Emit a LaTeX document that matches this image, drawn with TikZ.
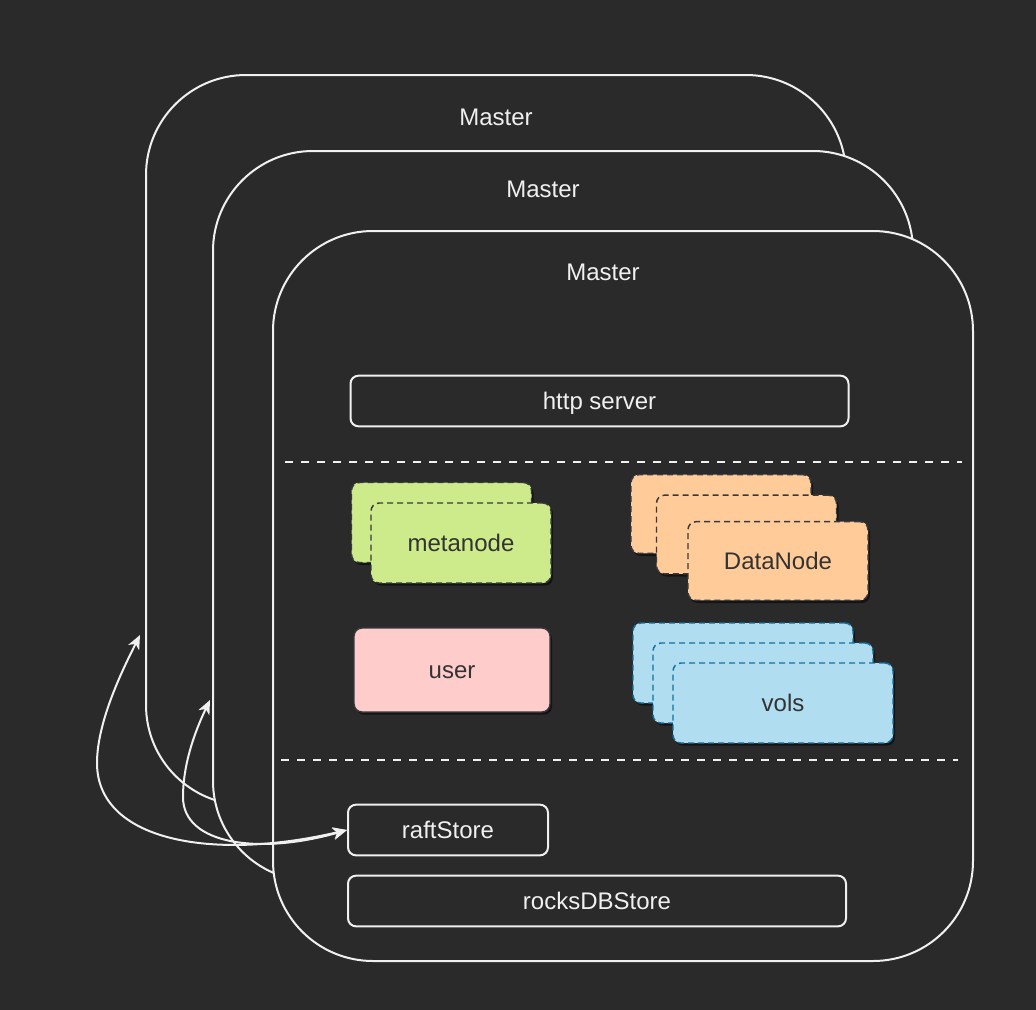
\documentclass[tikz,border=0pt]{standalone}
\usepackage{fontspec}
\setmainfont{Liberation Sans}
\usetikzlibrary{arrows.meta,shadows}

\definecolor{bg}{HTML}{2A2A2A}
\definecolor{fg}{HTML}{F0F0F0}
\definecolor{ink}{HTML}{333333}
\definecolor{edgegray}{HTML}{36393D}
\definecolor{metafill}{HTML}{CDEB8B}
\definecolor{datafill}{HTML}{FFCC99}
\definecolor{userfill}{HTML}{FFCCCC}
\definecolor{volfill}{HTML}{B1DDF0}
\definecolor{voledge}{HTML}{10739E}

\tikzset{
  txt/.style={font=\fontsize{18}{21.6}\selectfont, text height=16.2pt, text depth=3.78pt},
  master/.style={draw=fg, fill=bg, line width=1.5pt, rounded corners=75pt,
    minimum width=525pt, minimum height=547.5pt, inner sep=0pt},
  title/.style={txt, text=fg, anchor=center},
  srv/.style={txt, draw=fg, line width=1.5pt, rounded corners=6pt, text=fg,
    minimum height=38pt},
  comp/.style={txt, draw=edgegray, line width=1.1pt, rounded corners=6pt, text=ink,
    drop shadow={shadow xshift=1.5pt, shadow yshift=-2pt, fill=black, opacity=0.5}},
  metabox/.style={comp, fill=metafill, dash pattern=on 4.5pt off 3pt,
    minimum width=135pt, minimum height=60pt},
  databox/.style={comp, fill=datafill, dash pattern=on 4.5pt off 3pt,
    minimum width=135pt, minimum height=59pt},
  userbox/.style={comp, fill=userfill, minimum width=147pt, minimum height=63pt},
  volbox/.style={comp, fill=volfill, draw=voledge, dash pattern=on 4.5pt off 3pt,
    minimum width=165pt, minimum height=60pt},
  sep/.style={draw=fg, line width=1.5pt, dash pattern=on 6pt off 6pt},
  link/.style={draw=fg, line width=1.5pt, <->}
}

\begin{document}
\begin{tikzpicture}[x=0.75pt, y=-0.75pt, >={Stealth[length=10.5pt, width=9pt, inset=3pt]}]
  \fill[bg] (0,0) rectangle (1036,1010);
  \useasboundingbox (0,0) rectangle (1036,1010);

  % three masters, back to front
  \node[master, label={[title, yshift=-32.25pt]north:Master}] (mback) at (496,440) {};
  \node[master, label={[title, xshift=-15pt, yshift=-29.25pt]north:Master}] (mmid) at (563,516) {};
  \node[master, label={[title, xshift=-15pt, yshift=-31.5pt]north:Master}] (mfront) at (623,596) {};

  \node[srv, minimum width=373.5pt] (http) at (599.5,401) {http server};
  \draw[sep] (285,461.5) -- (962,461.5);

  \node[metabox] (meta1) at (441.5,522.5) {};
  \node[metabox] (meta2) at (461,543) {metanode};

  \node[databox] (data1) at (721,514) {};
  \node[databox] (data2) at (746.5,534.5) {};
  \node[databox] (data3) at (778,561) {DataNode};

  \node[userbox] (user) at (452,670) {user};

  \node[volbox] (vol1) at (743,663) {};
  \node[volbox] (vol2) at (763,683) {};
  \node[volbox] (vol3) at (783,703) {vols};

  \draw[sep] (281,760) -- (958,760);

  \node[srv, minimum width=150pt] (raft) at (448,830) {raftStore};
  \node[srv, minimum width=373.5pt] (rocks) at (597,901) {rocksDBStore};

  % raft links to the other masters
  \coordinate (backport) at (140,635);
  \coordinate (midport) at (210,700);
  \draw[link] (raft.west) .. controls (210,862) and (97,840) .. (97,763)
    .. controls (97,720) and (125,665) .. (backport);
  \draw[link] (raft.west) .. controls (260,855) and (183,845) .. (183,797)
    .. controls (183,760) and (198,725) .. (midport);
\end{tikzpicture}
\end{document}
